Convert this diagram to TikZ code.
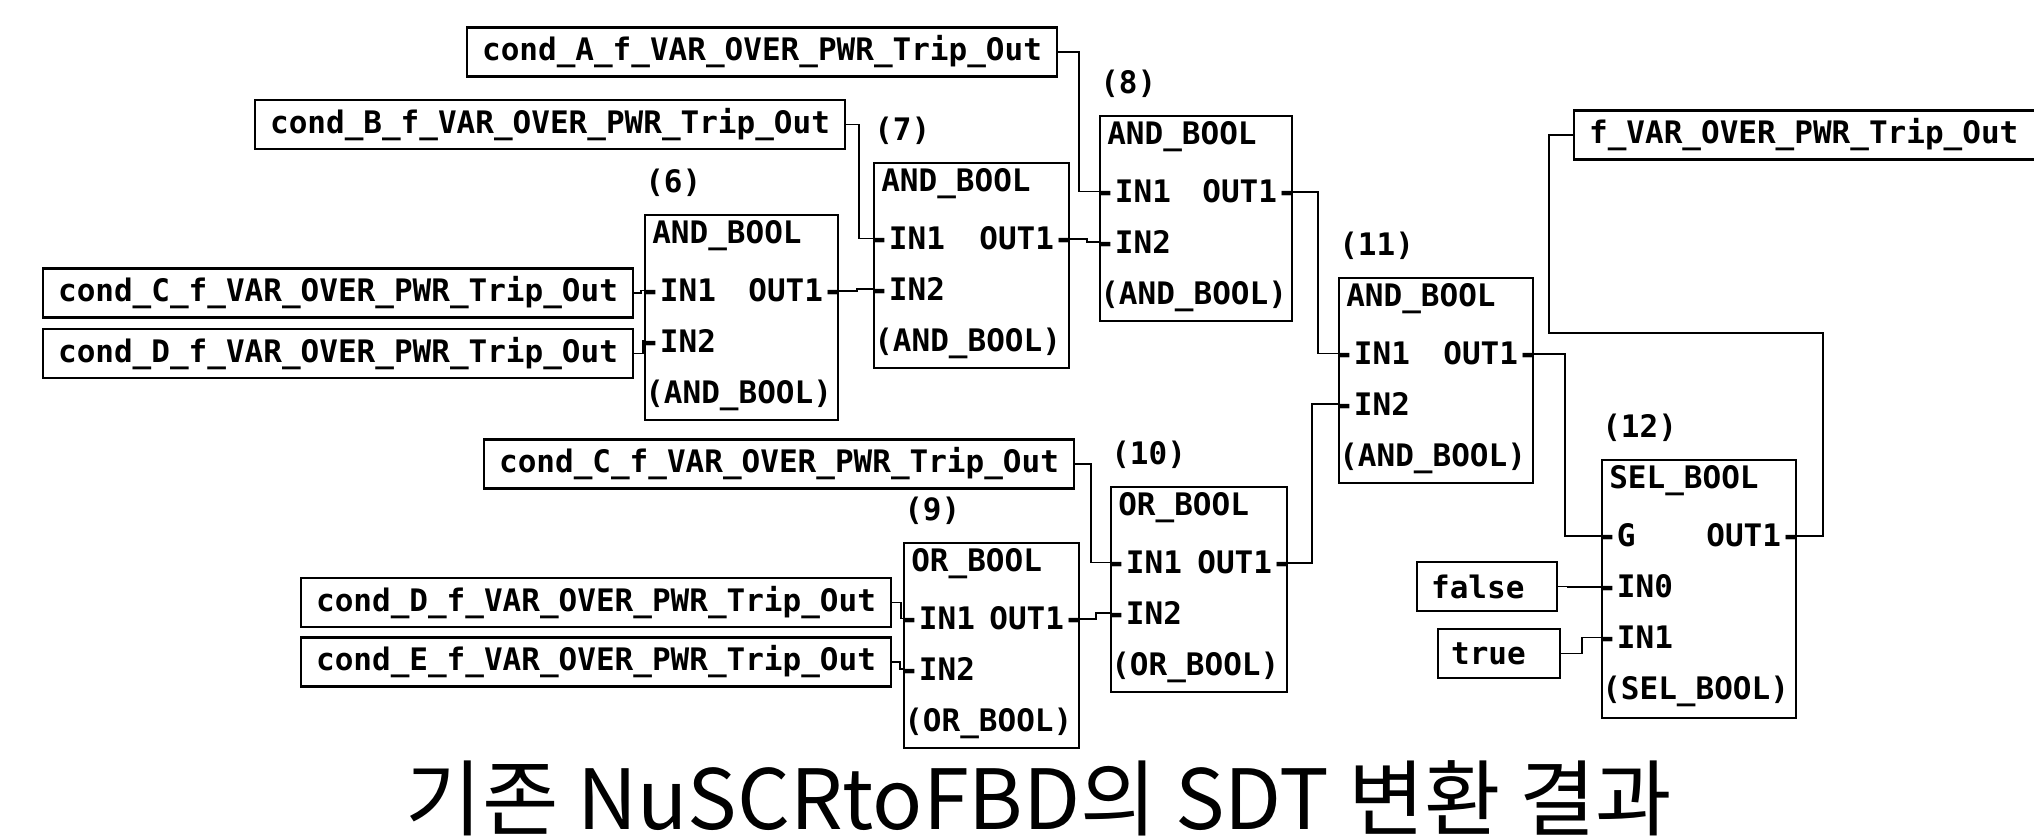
\documentclass[tikz,border=0pt]{standalone}
\usepackage{fontspec}
\newfontfamily\fbdfont{DejaVu Sans Mono}
\newfontfamily\korfont{Noto Sans CJK KR}
\newcommand{\fbdtext}{\fbdfont\bfseries\fontsize{15.5}{18}\selectfont}
\usetikzlibrary{fit}

\begin{document}
\begin{tikzpicture}[
    x=0.5pt, y=-0.5pt,
    fbd/.style={draw, line width=1.1pt, inner sep=0pt},
    var/.style={draw, line width=1.1pt, font=\fbdtext, inner xsep=7.5pt, minimum height=24.5pt, anchor=west},
    pin/.style={font=\fbdtext, inner sep=0pt, anchor=base west},
    pout/.style={font=\fbdtext, inner sep=0pt, anchor=base east},
    num/.style={font=\fbdtext, inner sep=0pt, anchor=west},
    wire/.style={draw, line width=0.9pt},
    ]
    \useasboundingbox (0,0) rectangle (2034,838);

    % input / output variables
    \node[var] (condA) at (466,52) {cond\_A\_f\_VAR\_OVER\_PWR\_Trip\_Out};
    \node[var] (condB) at (254,124.5) {cond\_B\_f\_VAR\_OVER\_PWR\_Trip\_Out};
    \node[var] (condC1) at (42,293) {cond\_C\_f\_VAR\_OVER\_PWR\_Trip\_Out};
    \node[var] (condD1) at (42,353.5) {cond\_D\_f\_VAR\_OVER\_PWR\_Trip\_Out};
    \node[var] (condC2) at (483,464) {cond\_C\_f\_VAR\_OVER\_PWR\_Trip\_Out};
    \node[var] (condD2) at (300,602.5) {cond\_D\_f\_VAR\_OVER\_PWR\_Trip\_Out};
    \node[var] (condE) at (300,662) {cond\_E\_f\_VAR\_OVER\_PWR\_Trip\_Out};
    \node[var, text width=56pt, inner xsep=7pt, align=left] (falsev) at (1416,586.5) {false};
    \node[var, text width=48pt, inner xsep=6.5pt, align=left] (truev) at (1437,653.5) {true};
    \node[var, text width=222pt, align=left] (fout) at (1573,135) {f\_VAR\_OVER\_PWR\_Trip\_Out};

    % (6) AND_BOOL
    \node[fbd, fit={(645,215) (838,420)}] (b6) {};
    \node[num] (n6) at ([shift={(1,-31)}]b6.north west) {(6)};
    \node[pin] (b6t) at ([shift={(8,30)}]b6.north west) {AND\_BOOL};
    \node[pin] (b6i1) at ([shift={(-3,88)}]b6.north west) {-IN1};
    \node[pin] (b6i2) at ([shift={(-3,139)}]b6.north west) {-IN2};
    \node[pin] (b6n) at ([shift={(1,190)}]b6.north west) {(AND\_BOOL)};
    \node[pout] (b6o) at ([shift={(3,88)}]b6.north east) {OUT1-};

    % (7) AND_BOOL
    \node[fbd, fit={(874,163) (1069,368)}] (b7) {};
    \node[num] (n7) at ([shift={(1,-31)}]b7.north west) {(7)};
    \node[pin] (b7t) at ([shift={(8,30)}]b7.north west) {AND\_BOOL};
    \node[pin] (b7i1) at ([shift={(-3,88)}]b7.north west) {-IN1};
    \node[pin] (b7i2) at ([shift={(-3,139)}]b7.north west) {-IN2};
    \node[pin] (b7n) at ([shift={(1,190)}]b7.north west) {(AND\_BOOL)};
    \node[pout] (b7o) at ([shift={(3,88)}]b7.north east) {OUT1-};

    % (8) AND_BOOL
    \node[fbd, fit={(1100,116) (1292,321)}] (b8) {};
    \node[num] (n8) at ([shift={(1,-31)}]b8.north west) {(8)};
    \node[pin] (b8t) at ([shift={(8,30)}]b8.north west) {AND\_BOOL};
    \node[pin] (b8i1) at ([shift={(-3,88)}]b8.north west) {-IN1};
    \node[pin] (b8i2) at ([shift={(-3,139)}]b8.north west) {-IN2};
    \node[pin] (b8n) at ([shift={(1,190)}]b8.north west) {(AND\_BOOL)};
    \node[pout] (b8o) at ([shift={(3,88)}]b8.north east) {OUT1-};

    % (9) OR_BOOL
    \node[fbd, fit={(904,543) (1079,748)}] (b9) {};
    \node[num] (n9) at ([shift={(1,-31)}]b9.north west) {(9)};
    \node[pin] (b9t) at ([shift={(8,30)}]b9.north west) {OR\_BOOL};
    \node[pin] (b9i1) at ([shift={(-3,88)}]b9.north west) {-IN1};
    \node[pin] (b9i2) at ([shift={(-3,139)}]b9.north west) {-IN2};
    \node[pin] (b9n) at ([shift={(1,190)}]b9.north west) {(OR\_BOOL)};
    \node[pout] (b9o) at ([shift={(3,88)}]b9.north east) {OUT1-};

    % (10) OR_BOOL
    \node[fbd, fit={(1111,487) (1287,692)}] (b10) {};
    \node[num] (n10) at ([shift={(1,-31)}]b10.north west) {(10)};
    \node[pin] (b10t) at ([shift={(8,30)}]b10.north west) {OR\_BOOL};
    \node[pin] (b10i1) at ([shift={(-3,88)}]b10.north west) {-IN1};
    \node[pin] (b10i2) at ([shift={(-3,139)}]b10.north west) {-IN2};
    \node[pin] (b10n) at ([shift={(1,190)}]b10.north west) {(OR\_BOOL)};
    \node[pout] (b10o) at ([shift={(3,88)}]b10.north east) {OUT1-};

    % (11) AND_BOOL
    \node[fbd, fit={(1339,278) (1533,483)}] (b11) {};
    \node[num] (n11) at ([shift={(1,-31)}]b11.north west) {(11)};
    \node[pin] (b11t) at ([shift={(8,30)}]b11.north west) {AND\_BOOL};
    \node[pin] (b11i1) at ([shift={(-3,88)}]b11.north west) {-IN1};
    \node[pin] (b11i2) at ([shift={(-3,139)}]b11.north west) {-IN2};
    \node[pin] (b11n) at ([shift={(1,190)}]b11.north west) {(AND\_BOOL)};
    \node[pout] (b11o) at ([shift={(3,88)}]b11.north east) {OUT1-};

    % (12) SEL_BOOL
    \node[fbd, fit={(1602,460) (1796,718)}] (b12) {};
    \node[num] (n12) at ([shift={(1,-31)}]b12.north west) {(12)};
    \node[pin] (b12t) at ([shift={(8,30)}]b12.north west) {SEL\_BOOL};
    \node[pin] (b12g) at ([shift={(-3,88)}]b12.north west) {-G};
    \node[pin] (b12i0) at ([shift={(-3,139)}]b12.north west) {-IN0};
    \node[pin] (b12i1) at ([shift={(-3,190)}]b12.north west) {-IN1};
    \node[pin] (b12n) at ([shift={(1,241)}]b12.north west) {(SEL\_BOOL)};
    \node[pout] (b12o) at ([shift={(3,88)}]b12.north east) {OUT1-};

    % wires
    \draw[wire] (condA.east) -- ++(21,0) |- (b8.west |- b8i1);
    \draw[wire] (condB.east) -- ++(13,0) |- (b7.west |- b7i1);
    \draw[wire] (condC1.east) -- ++(7,0) |- (b6.west |- b6i1);
    \draw[wire] (condD1.east) -- ++(9,0) |- (b6.west |- b6i2);
    \draw[wire] (b6.east |- b6o) -- ++(18,0) |- (b7.west |- b7i2);
    \draw[wire] (b7.east |- b7o) -- ++(17,0) |- (b8.west |- b8i2);
    \draw[wire] (b8.east |- b8o) -- ++(25,0) |- (b11.west |- b11i1);
    \draw[wire] (condC2.east) -- ++(16,0) |- (b10.west |- b10i1);
    \draw[wire] (condD2.east) -- ++(9,0) |- (b9.west |- b9i1);
    \draw[wire] (condE.east) -- ++(8,0) |- (b9.west |- b9i2);
    \draw[wire] (b9.east |- b9o) -- ++(16,0) |- (b10.west |- b10i2);
    \draw[wire] (b10.east |- b10o) -- ++(24,0) |- (b11.west |- b11i2);
    \draw[wire] (b11.east |- b11o) -- ++(31,0) |- (b12.west |- b12g);
    \draw[wire] (falsev.east) -- ++(10,0) |- (b12.west |- b12i0);
    \draw[wire] (truev.east) -- ++(21,0) |- (b12.west |- b12i1);
    \coordinate (back) at (1549,333);
    \draw[wire] (b12.east |- b12o) -- ++(26,0) |- (back) |- (fout.west);

    % caption
    \node[font=\korfont\fontsize{41.5}{48}\selectfont, anchor=base, inner sep=0pt] (caption) at (1039,829) {기존 NuSCRtoFBD의 SDT 변환 결과};
\end{tikzpicture}
\end{document}
